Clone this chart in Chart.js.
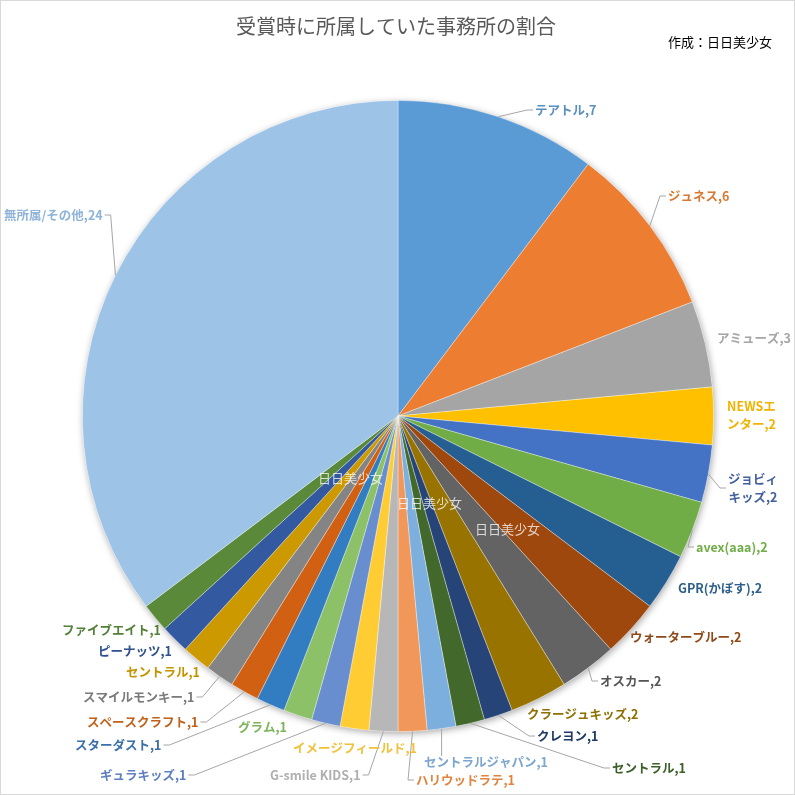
<!DOCTYPE html>
<html lang="ja">
<head>
  <meta charset="UTF-8" />
  <title>受賞時に所属していた事務所の割合</title>
  <script src="https://cdn.jsdelivr.net/npm/chart.js"></script>
  <style>
    html, body { margin: 0; padding: 0; background: #fff; }
    #wrap { width: 795px; height: 795px; position: relative; }
  </style>
</head>
<body>
  <div id="wrap"><canvas id="pieChart"></canvas></div>

  <script>
    // data, clockwise from 12 o'clock
    const categories = [
      "テアトル", "ジュネス", "アミューズ", "NEWSエンター", "ジョビィキッズ", "avex(aaa)",
      "GPR(かぼす)", "ウォーターブルー", "オスカー", "クラージュキッズ", "クレヨン", "セントラル",
      "セントラルジャパン", "ハリウッドラテ", "G-smile KIDS", "イメージフィールド", "ギュラキッズ", "グラム",
      "スターダスト", "スペースクラフト", "スマイルモンキー", "セントラル", "ピーナッツ", "ファイブエイト",
      "無所属/その他"
    ];
    const values = [7, 6, 3, 2, 2, 2, 2, 2, 2, 2, 1, 1, 1, 1, 1, 1, 1, 1, 1, 1, 1, 1, 1, 1, 24];

    const sliceColors = [
      "#5B9BD5", "#ED7D31", "#A5A5A5", "#FFC000", "#4472C4", "#70AD47",
      "#255E91", "#9E480E", "#636363", "#997300", "#264478", "#43682B",
      "#7CAFDD", "#F1975A", "#B7B7B7", "#FFCD33", "#698ED0", "#8CC168",
      "#327DC2", "#D26012", "#848484", "#CC9A00", "#335AA1", "#5A8A39",
      "#9DC3E6"
    ];
    const labelColors = [
      "#5B8FC0", "#D9782F", "#A5A5A5", "#F0B400", "#44619E", "#70AD47",
      "#2F5F8A", "#8E4A1A", "#555555", "#8E7000", "#1F3864", "#3C5E28",
      "#7CA6CF", "#E0843F", "#AFAFAF", "#F2C13A", "#5F7FBF", "#7DB35B",
      "#3B6FA8", "#C0611C", "#7A7A7A", "#C39400", "#2F4F8F", "#54803A",
      "#8FB4D9"
    ];

    // label placement: left x, centre y of the text block (layout only)
    const labelPos = [
      [535, 110], [668, 196], [717, 338], [727, 415], [728, 488], [696, 547],
      [678, 588], [630, 637], [600, 681], [527, 714], [537, 736], [612, 768],
      [424, 762], [416, 780], [270, 775], [293, 748], [100, 775], [238, 727],
      [75, 745], [87, 722], [83, 697], [126, 672], [98, 651], [62, 630],
      [4, 215]
    ];
    // labels broken onto two lines after n characters
    const labelWrap = { 3: 5, 4: 4 };

    const FONT = '"Noto Sans CJK JP", "Noto Sans", sans-serif';

    const shadowPlugin = {
      id: "pieShadow",
      beforeDatasetsDraw(chart) {
        const arc = chart.getDatasetMeta(0).data[0];
        if (!arc) return;
        const p = arc.getProps(["x", "y", "outerRadius"], true);
        const ctx = chart.ctx;
        ctx.save();
        ctx.shadowColor = "rgba(0,0,0,0.35)";
        ctx.shadowBlur = 7;
        ctx.shadowOffsetX = 1;
        ctx.shadowOffsetY = 2;
        ctx.fillStyle = "#ffffff";
        ctx.beginPath();
        ctx.arc(p.x, p.y, p.outerRadius, 0, Math.PI * 2);
        ctx.fill();
        ctx.restore();
      }
    };

    const decorPlugin = {
      id: "decor",
      afterDraw(chart) {
        const ctx = chart.ctx;
        const meta = chart.getDatasetMeta(0);
        ctx.save();

        // frame
        ctx.strokeStyle = "#D9D9D9";
        ctx.lineWidth = 1;
        ctx.strokeRect(0.5, 0.5, 794, 794);

        // title
        ctx.fillStyle = "#595959";
        ctx.font = "20px " + FONT;
        ctx.textAlign = "center";
        ctx.textBaseline = "middle";
        ctx.fillText("受賞時に所属していた事務所の割合", 396, 26);

        ctx.fillStyle = "#000";
        ctx.font = "13px " + FONT;
        ctx.textAlign = "left";
        ctx.fillText("作成：日日美少女", 668, 42);

        // watermarks
        ctx.fillStyle = "rgba(255,255,255,0.75)";
        ctx.font = "13px " + FONT;
        [[318, 478], [397, 503], [475, 529]].forEach(([x, y]) => ctx.fillText("日日美少女", x, y));

        // data labels with leader lines
        ctx.font = "bold 12.5px " + FONT;
        const lineH = 18;
        meta.data.forEach((el, i) => {
          const p = el.getProps(["x", "y", "startAngle", "endAngle", "outerRadius"], true);
          const mid = (p.startAngle + p.endAngle) / 2;
          const ax = p.x + Math.cos(mid) * p.outerRadius;
          const ay = p.y + Math.sin(mid) * p.outerRadius;

          const full = categories[i] + "," + values[i];
          const lines = labelWrap[i] ? [full.slice(0, labelWrap[i]), full.slice(labelWrap[i])] : [full];
          const w = Math.max(...lines.map(s => ctx.measureText(s).width));
          const [lx, cy] = labelPos[i];
          const L = lx, R = lx + w;
          const T = cy - lines.length * lineH / 2, B = cy + lines.length * lineH / 2;

          let pts;
          if (ax < L) pts = [[L - 8, cy], [L - 2, cy]];
          else if (ax > R) pts = [[R + 8, cy], [R + 2, cy]];
          else pts = [[ax, ay < T ? T + 3 : B - 3]];
          const end = pts[pts.length - 1];
          if (Math.hypot(end[0] - ax, end[1] - ay) > 15) {
            ctx.strokeStyle = "#A6A6A6";
            ctx.lineWidth = 1;
            ctx.beginPath();
            ctx.moveTo(ax, ay);
            pts.forEach(([x, y]) => ctx.lineTo(x, y));
            ctx.stroke();
          }

          ctx.fillStyle = labelColors[i];
          ctx.textAlign = lines.length > 1 ? "center" : "left";
          lines.forEach((s, k) => {
            const y = cy - (lines.length - 1) * lineH / 2 + k * lineH;
            ctx.fillText(s, lines.length > 1 ? (L + R) / 2 : L, y);
          });
        });
        ctx.restore();
      }
    };

    new Chart(document.getElementById("pieChart"), {
      type: "pie",
      data: {
        labels: categories,
        datasets: [{
          data: values,
          backgroundColor: sliceColors,
          borderColor: "rgba(255,255,255,0.45)",
          borderWidth: 0.75
        }]
      },
      options: {
        responsive: true,
        maintainAspectRatio: false,
        animation: false,
        layout: { padding: { left: 82, right: 81, top: 100, bottom: 63 } },
        plugins: {
          legend: { display: false },
          tooltip: { enabled: false },
          title: { display: false }
        }
      },
      plugins: [shadowPlugin, decorPlugin]
    });
  </script>
</body>
</html>
